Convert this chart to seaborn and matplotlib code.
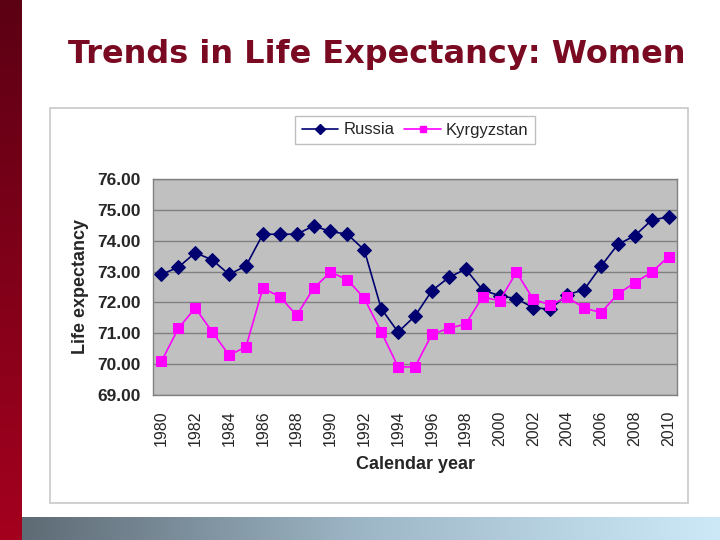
import numpy as np
import pandas as pd
import matplotlib
matplotlib.use("Agg")
from matplotlib import pyplot as plt
from matplotlib.patches import Rectangle
from matplotlib.lines import Line2D
import seaborn as sns

years = list(range(1980, 2011))
russia = [72.91, 73.14, 73.61, 73.38, 72.91, 73.18, 74.21, 74.21, 74.21, 74.48,
          74.30, 74.21, 73.70, 71.80, 71.04, 71.56, 72.38, 72.81, 73.08, 72.40,
          72.22, 72.12, 71.83, 71.78, 72.25, 72.41, 73.17, 73.88, 74.16, 74.67,
          74.77]
kyrgyzstan = [70.09, 71.16, 71.82, 71.05, 70.29, 70.56, 72.46, 72.19, 71.58, 72.46,
              72.98, 72.74, 72.13, 71.05, 69.91, 69.91, 70.97, 71.16, 71.30, 72.18,
              72.05, 72.98, 72.10, 71.92, 72.17, 71.82, 71.67, 72.27, 72.64, 72.98,
              73.48]
series_names = ["Russia", "Kyrgyzstan"]
colors = {"Russia": "#000070", "Kyrgyzstan": "#ff00ff"}
markers = {"Russia": "D", "Kyrgyzstan": "s"}

df = pd.DataFrame({
    "year": years * 2,
    "value": russia + kyrgyzstan,
    "country": ["Russia"] * len(years) + ["Kyrgyzstan"] * len(years),
})

sns.set_style("white")
plt.rcParams["font.family"] = ["Liberation Sans", "DejaVu Sans"]

fig = plt.figure(figsize=(7.2, 5.4), dpi=100)
fig.patch.set_facecolor("white")

# left red bar
bar = fig.add_axes([0, 0, 22 / 720, 1])
bar.imshow(np.linspace(0, 1, 256).reshape(-1, 1), aspect="auto",
           cmap=matplotlib.colors.LinearSegmentedColormap.from_list("r", ["#5c0014", "#a4001e"]))
bar.axis("off")

# bottom gradient bar
bot = fig.add_axes([22 / 720, 0, 698 / 720, 23 / 540])
bot.imshow(np.linspace(0, 1, 256).reshape(1, -1), aspect="auto",
           cmap=matplotlib.colors.LinearSegmentedColormap.from_list("b", ["#5e6b75", "#9fb8c8", "#cde9f8"]))
bot.axis("off")

fig.text(377 / 720, 1 - 55 / 540, "Trends in Life Expectancy: Women",
         ha="center", va="center", fontsize=23, fontweight="bold", color="#7a0a22",
         family=["DejaVu Sans"])

# chart frame
fig.patches.append(Rectangle((50 / 720, 1 - 503 / 540), 638 / 720, 395 / 540,
                             transform=fig.transFigure, facecolor="none",
                             edgecolor="#c8c8c8", linewidth=1.2, zorder=-1))

ax = fig.add_axes([153 / 720, 1 - 395 / 540, 524 / 720, 216 / 540])
ax.set_facecolor("#c0c0c0")
sns.lineplot(data=df, x="year", y="value", hue="country", style="country",
             palette=colors, markers=markers, dashes=False, markersize=7,
             linewidth=1.2, ax=ax, legend=False)
for line, name in zip(ax.lines, series_names):
    line.set_markeredgecolor(colors[name])

ax.set_xlim(1979.5, 2010.5)
ax.set_ylim(69, 76)
ax.set_yticks(np.arange(69, 77, 1))
ax.set_yticklabels([f"{v:.2f}" for v in np.arange(69, 77, 1)], fontweight="bold", fontsize=12.5)
ax.set_xticks(years[::2])
ax.set_xticklabels([str(y) for y in years[::2]], rotation=90, fontsize=11.5)
ax.set_xticks(np.arange(1979.5, 2011, 1), minor=True)
ax.tick_params(axis="x", which="major", length=0, pad=11)
ax.tick_params(axis="x", which="minor", length=5, color="#808080", direction="out")
ax.tick_params(axis="y", length=4, color="#808080", direction="out", pad=5)
ax.grid(axis="y", color="#808080", linewidth=1)
ax.set_axisbelow(True)
for s in ax.spines.values():
    s.set_color("#808080")
    s.set_linewidth(1)
ax.set_xlabel("Calendar year", fontsize=13, fontweight="bold", labelpad=7)
ax.set_ylabel("Life expectancy", fontsize=13, fontweight="bold", labelpad=6)

handles = [Line2D([0], [0], color=colors[n], marker=markers[n], markersize=5,
                  linewidth=1.2, markeredgecolor=colors[n]) for n in series_names]
fig.legend(handles, series_names, loc="center", bbox_to_anchor=(415 / 720, 1 - 130 / 540),
           ncol=2, frameon=True, fancybox=False, edgecolor="#b0b0b0", fontsize=12,
           handlelength=2.2, handletextpad=0.3, columnspacing=0.6, borderpad=0.4)

fig.savefig("out.png", dpi=100)
